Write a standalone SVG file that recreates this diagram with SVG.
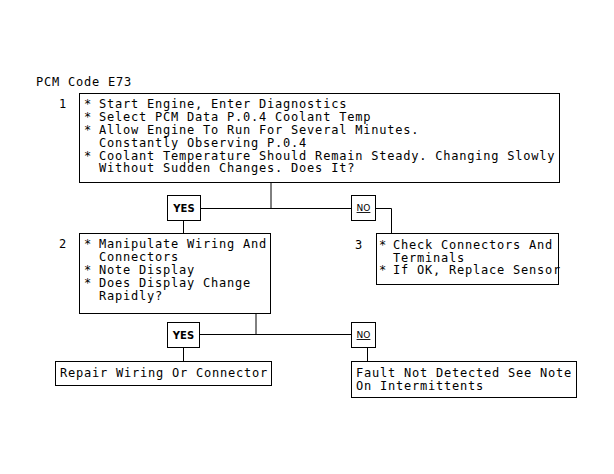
<svg xmlns="http://www.w3.org/2000/svg" width="614" height="474" viewBox="0 0 614 474">
<style>
.bx{fill:#fff;stroke:#000;stroke-width:1}
.ln{fill:none;stroke:#000;stroke-width:1}
.t{font-family:"DejaVu Sans Mono","Liberation Mono",monospace;font-size:12px;letter-spacing:0.78px;fill:#000}
.yes{font-family:"DejaVu Sans","Liberation Sans",sans-serif;font-size:10px;font-weight:bold;fill:#000;text-anchor:middle}
.no{font-family:"DejaVu Sans","Liberation Sans",sans-serif;font-size:9px;fill:#000;text-anchor:middle;text-decoration:underline}
</style>
<rect width="614" height="474" fill="#fff"/>
<text class="t" x="36" y="86">PCM Code E73</text>
<g id="connectors">
<path class="ln" d="M271,182.5V208.5M200.5,208.5H351.5M183.5,220.5V233.5M375.5,208.5H391.5V233.5"/>
<path class="ln" d="M256,313.5V334.5M199.5,334.5H351.5M183.5,347.5V361.5M367.5,347.5V361.5"/>
</g>
<g id="step1">
<text class="t" x="59" y="108">1</text>
<rect class="bx" x="79.5" y="93.5" width="480" height="89"/>
<text class="t" x="84" y="108">*</text>
<text class="t" x="99" y="108">Start Engine, Enter Diagnostics</text>
<text class="t" x="84" y="121">*</text>
<text class="t" x="99" y="121">Select PCM Data P.0.4 Coolant Temp</text>
<text class="t" x="84" y="134">*</text>
<text class="t" x="99" y="134">Allow Engine To Run For Several Minutes.</text>
<text class="t" x="99" y="146.5">Constantly Observing P.0.4</text>
<text class="t" x="84" y="159.5">*</text>
<text class="t" x="99" y="159.5">Coolant Temperature Should Remain Steady. Changing Slowly</text>
<text class="t" x="99" y="172">Without Sudden Changes. Does It?</text>
</g>
<g id="yes1">
<rect class="bx" x="167.5" y="195.5" width="33" height="25"/>
<text class="yes" x="184" y="212">YES</text>
</g>
<g id="no1">
<rect class="bx" x="351.5" y="195.5" width="24" height="25"/>
<text class="no" x="363.5" y="211">NO</text>
</g>
<g id="step2">
<text class="t" x="59" y="248">2</text>
<rect class="bx" x="79.5" y="233.5" width="191" height="80"/>
<text class="t" x="84" y="248">*</text>
<text class="t" x="99" y="248">Manipulate Wiring And</text>
<text class="t" x="99" y="261">Connectors</text>
<text class="t" x="84" y="274">*</text>
<text class="t" x="99" y="274">Note Display</text>
<text class="t" x="84" y="287">*</text>
<text class="t" x="99" y="287">Does Display Change</text>
<text class="t" x="99" y="299.5">Rapidly?</text>
</g>
<g id="step3">
<text class="t" x="355" y="249">3</text>
<rect class="bx" x="376.5" y="233.5" width="182" height="51"/>
<text class="t" x="379" y="249">*</text>
<text class="t" x="393" y="249">Check Connectors And</text>
<text class="t" x="393" y="261.5">Terminals</text>
<text class="t" x="379" y="274">*</text>
<text class="t" x="393" y="274">If OK, Replace Sensor</text>
</g>
<g id="yes2">
<rect class="bx" x="167.5" y="322.5" width="32" height="25"/>
<text class="yes" x="183.5" y="339">YES</text>
</g>
<g id="no2">
<rect class="bx" x="351.5" y="322.5" width="24" height="25"/>
<text class="no" x="363.5" y="338">NO</text>
</g>
<g id="repair">
<rect class="bx" x="55.5" y="361.5" width="216" height="24"/>
<text class="t" x="60" y="377">Repair Wiring Or Connector</text>
</g>
<g id="fault">
<rect class="bx" x="351.5" y="361.5" width="225" height="36"/>
<text class="t" x="356" y="377">Fault Not Detected See Note</text>
<text class="t" x="356" y="389.5">On Intermittents</text>
</g>
</svg>
